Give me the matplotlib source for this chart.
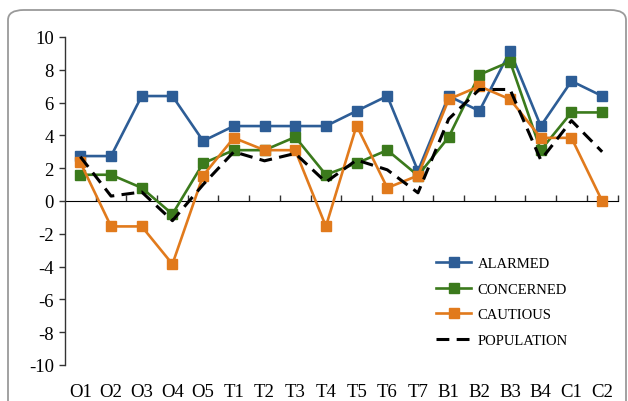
import matplotlib
matplotlib.use("Agg")
import matplotlib.pyplot as plt
from matplotlib.patches import FancyBboxPatch
import numpy as np

categories = ["O1", "O2", "O3", "O4", "O5", "T1", "T2", "T3", "T4", "T5",
              "T6", "T7", "B1", "B2", "B3", "B4", "C1", "C2"]
alarmed = [2.74, 2.74, 6.4, 6.4, 3.66, 4.57, 4.57, 4.57, 4.57, 5.49,
           6.4, 1.83, 6.4, 5.49, 9.14, 4.57, 7.31, 6.4]
concerned = [1.6, 1.6, 0.8, -0.8, 2.3, 3.1, 3.1, 3.9, 1.6, 2.3,
             3.1, 1.55, 3.9, 7.7, 8.5, 3.1, 5.4, 5.4]
cautious = [2.35, -1.55, -1.55, -3.85, 1.55, 3.85, 3.1, 3.1, -1.55, 4.6,
            0.8, 1.55, 6.2, 7.0, 6.2, 3.85, 3.85, 0.0]
population = [2.7, 0.3, 0.55, -1.2, 1.0, 3.0, 2.45, 2.9, 1.15, 2.5,
              1.9, 0.5, 5.0, 6.8, 6.8, 2.5, 4.9, 3.0]
series_names = ["ALARMED", "CONCERNED", "CAUTIOUS", "POPULATION"]
y_ticks = [-10, -8, -6, -4, -2, 0, 2, 4, 6, 8, 10]

W, H = 628, 402
fig = plt.figure(figsize=(W / 100, H / 100), dpi=100)
plt.rcParams['font.family'] = ['Liberation Serif', 'DejaVu Serif']

# rounded frame
frame = FancyBboxPatch((8 / W, -0.2), (626 - 8) / W, (H - 11) / H + 0.2,
                       boxstyle="round,pad=0,rounding_size=0.025",
                       transform=fig.transFigure, fill=False,
                       edgecolor="#9a9a9a", linewidth=1.3, clip_on=False)
fig.patches.append(frame)

ax = fig.add_axes([65 / W, 1 - 366 / H, (617.5 - 65) / W, (366 - 38) / H])
x = np.arange(len(categories))

blue, green, orange = "#2d5d96", "#3b7a1c", "#e17a1c"
ms = 7.5
ax.plot(x, alarmed, color=blue, lw=1.9, marker="s", ms=ms, label=series_names[0])
ax.plot(x, concerned, color=green, lw=1.9, marker="s", ms=ms, label=series_names[1])
ax.plot(x, cautious, color=orange, lw=1.9, marker="s", ms=ms, label=series_names[2])
ax.plot(x, population, color="black", lw=2.2, ls=(0, (4.2, 2.4)), label=series_names[3])

ax.set_xlim(-0.5, len(categories) - 0.5)
ax.set_ylim(-10, 10)
for s in ["top", "right", "bottom"]:
    ax.spines[s].set_visible(False)
ax.spines["left"].set_color("#333333")
ax.spines["left"].set_linewidth(1.0)

ax.set_yticks(y_ticks)
ax.set_yticklabels([str(v) for v in y_ticks])
ax.tick_params(axis="y", direction="out", length=4, width=1, color="#333333",
               pad=4, labelsize=13.5)
ax.set_xticks(x)
ax.set_xticklabels(categories)
ax.tick_params(axis="x", length=0, pad=13, labelsize=13.5)

# zero axis line with boundary ticks
sec = ax.secondary_xaxis(0.5)
sec.set_xticks(np.arange(0.5, len(categories), 1.0))
sec.set_xticklabels([])
sec.tick_params(axis="x", direction="out", length=4, width=1, color="#333333")
sec.spines["bottom"].set_color("#333333")
sec.spines["bottom"].set_linewidth(1.0)

leg = ax.legend(loc="upper left", bbox_to_anchor=(436 / W, 1 - 258 / H),
                bbox_transform=fig.transFigure, frameon=False, fontsize=10.5,
                handlelength=2.4, handletextpad=0.45, labelspacing=0.85,
                borderpad=0, borderaxespad=0, numpoints=1)
for h in leg.legend_handles:
    h.set_markersize(6.5)

fig.savefig("out.png", dpi=100)
